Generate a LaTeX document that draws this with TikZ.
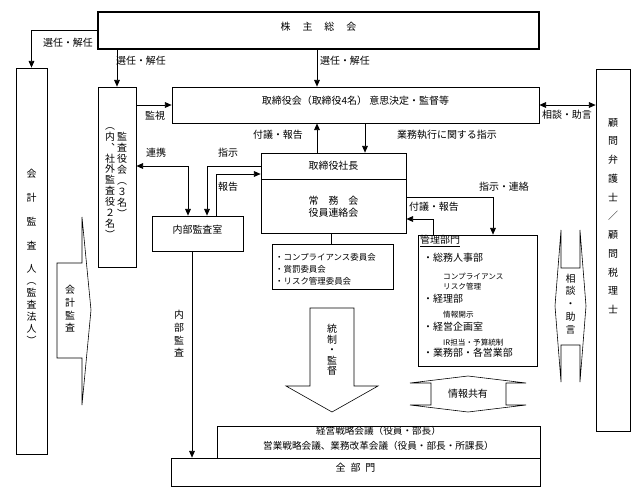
\documentclass[tikz,border=0pt]{standalone}
\usepackage{fontspec}
\setmainfont{Noto Sans CJK JP}
\usetikzlibrary{arrows.meta,fit}

\begin{document}
\begin{tikzpicture}[x=0.03cm,y=-0.03cm,
	box/.style={draw,line width=0.6pt,inner sep=0pt},
	lbl/.style={inner sep=0pt,font=\fontsize{8.5}{10.2}\selectfont},
	small/.style={inner sep=0pt,anchor=west,font=\fontsize{7.2}{9}\selectfont},
	tiny/.style={inner sep=0pt,anchor=west,font=\fontsize{6.5}{8}\selectfont},
	vert/.style={inner sep=0pt,align=center,font=\fontsize{8.5}{#1}\selectfont},
	arr/.style={-{Triangle[length=2mm,width=1.7mm]},line width=0.6pt},
	arrr/.style={{Triangle[length=2mm,width=1.7mm]}-{Triangle[length=2mm,width=1.7mm]},line width=0.6pt},
	blk/.style={draw,line width=0.5pt,fill=white}]
	\useasboundingbox (0,0) rectangle (642,499);

	\node[box,lbl,line width=1.3pt,fit={(98,12) (539,49)}] (gm) {株\hspace{1.2em}主\hspace{1.2em}総\hspace{1.2em}会};
	\node[box,vert=10.2pt,fit={(16,68) (47,454)}] (kaikei) {会\\[10.2pt]計\\[10.2pt]監\\[10.2pt]査\\[10.2pt]人\\︵\\監\\査\\法\\人\\︶};
	\node[box,fit={(98,87) (136,267)}] (kansa) {};
	\node[vert=9.35pt] (kansaR) at (122,175) {監\\査\\役\\会\\︵\\３\\名\\︶};
	\node[vert=9.35pt] (kansaL) at (110,183) {︵\\内\\︑\\社\\外\\監\\査\\役\\２\\名\\︶};
	\node[box,lbl,fit={(172,87) (539,123)}] (bod) {取締役会（取締役4名） 意思決定・監督等};
	\node[box,fit={(596,69) (630,431)}] (komon) {};
	\node[vert=16pt] (komonT) at (613,216) {顧\\問\\弁\\護\\士\\／\\顧\\問\\税\\理\\士};

	\node[box,fit={(261,153) (406,233)}] (pres) {};
	\coordinate (div) at (0,179);
	\draw[line width=0.6pt] (pres.west |- div) -- (pres.east |- div);
	\node[lbl] (presT) at (333.5,166) {取締役社長};
	\node[lbl,align=center] (jomu) at (333.5,207) {常　務　会\\役員連絡会};

	\node[box,lbl,fit={(152,216) (243,251)}] (naibu) {内部監査室};
	\node[box,fit={(272,244) (393,289)}] (iinkai) {};
	\foreach \t/\y [count=\n] in {・コンプライアンス委員会/257,・賞罰委員会/269,・リスク管理委員会/281}
		\node[small] (ii\n) at (275,\y) {\t};

	\node[box,fit={(418,235) (537,366)}] (kanri) {};
	\node[lbl,anchor=west] (kanriT) at (420,241) {\underline{管理部門}};
	\foreach \t/\y [count=\n] in {・総務人事部/258,・経理部/299,・経営企画室/327,・業務部・各営業部/353}
		\node[lbl,anchor=west] (bu\n) at (423,\y) {\t};
	\foreach \t/\y [count=\n] in {コンプライアンス/276,リスク管理/287,情報開示/315,IR担当・予算統制/343}
		\node[tiny] (sub\n) at (443,\y) {\t};

	\node[box,fit={(217,426) (540,458)},align=center,inner sep=0pt,font=\fontsize{8.2}{12.75}\selectfont] (senryaku) {経営戦略会議（役員・部長）\\営業戦略会議、業務改革会議（役員・部長・所課長）};
	\node[box,lbl,fit={(171,458) (540,486)}] (zen) {全\hspace{0.5em}部\hspace{0.5em}門};

	\draw[blk] (57,263) -- (82,263) -- (82,217) -- (91,310) -- (82,405) -- (82,358) -- (57,358) -- cycle;
	\node[vert=10.8pt] (kaikeiA) at (70,309) {会\\計\\監\\査};
	\draw[blk] (310,308) -- (354,308) -- (354,386) -- (378,386) -- (332,412) -- (286,386) -- (310,386) -- cycle;
	\node[vert=8.9pt] (toseiA) at (332,350) {統\\制\\・\\監\\督};
	\draw[blk] (561,268) -- (561,230) -- (555,306) -- (561,382) -- (561,345) -- (580,345) -- (580,382) -- (586,306) -- (580,230) -- (580,268) -- cycle;
	\node[vert=11pt] (sodanA) at (570.5,304) {相\\談\\・\\助\\言};
	\draw[blk] (431,383) -- (410,383) -- (468,376) -- (526,383) -- (506,383) -- (506,405) -- (526,405) -- (468,412) -- (410,405) -- (431,405) -- cycle;
	\node[lbl] (johoA) at (468,394) {情報共有};

	\foreach \t/\x/\y [count=\n] in {選任・解任/68/43,選任・解任/141/61,選任・解任/345/61,監視/155/116,相談・助言/567/115,付議・報告/278/135,業務執行に関する指示/447/135,連携/156/153,指示/228/153,報告/228/187,指示・連絡/504/187,付議・報告/434/207}
		\node[lbl] (L\n) at (\x,\y) {\t};
	\node[vert=10.8pt] (naibuL) at (179,334) {内\\部\\監\\査};

	\coordinate (c1) at (317,0);
	\coordinate (c3) at (365,0);
	\coordinate (c4) at (188,166);
	\coordinate (c5) at (207,166);
	\coordinate (c6) at (216,174);
	\coordinate (c7) at (331,0);
	\coordinate (c8) at (493,197);
	\coordinate (c9) at (433,219);
	\coordinate (c10) at (192,0);

	\draw[arr] (gm.west) -| (kaikei.north);
	\draw[arr] (gm.south -| kansa.north) -- (kansa.north);
	\draw[arr] (c1 |- gm.south) -- (c1 |- bod.north);
	\draw[arr] (kansa.east |- bod.west) -- (bod.west);
	\draw[arrr] (bod.east) -- (komon.west |- bod.east);
	\draw[arr] (c1 |- pres.north) -- (c1 |- bod.south);
	\draw[arr] (c3 |- bod.south) -- (c3 |- pres.north);
	\draw[arrr] (kansa.east |- c4) -| (c4 |- naibu.north);
	\draw[arr] (pres.west |- c5) -| (c5 |- naibu.north);
	\draw[arr] (c6 |- naibu.north) |- (pres.west |- c6);
	\draw[line width=0.6pt] (c7 |- pres.south) -- (c7 |- iinkai.north);
	\draw[arr] (pres.east |- c8) -| (c8 |- kanri.north);
	\draw[arr] (c9 |- kanri.north) |- (pres.east |- c9);
	\draw[arr] (c10 |- naibu.south) -- (c10 |- zen.north);
\end{tikzpicture}
\end{document}
